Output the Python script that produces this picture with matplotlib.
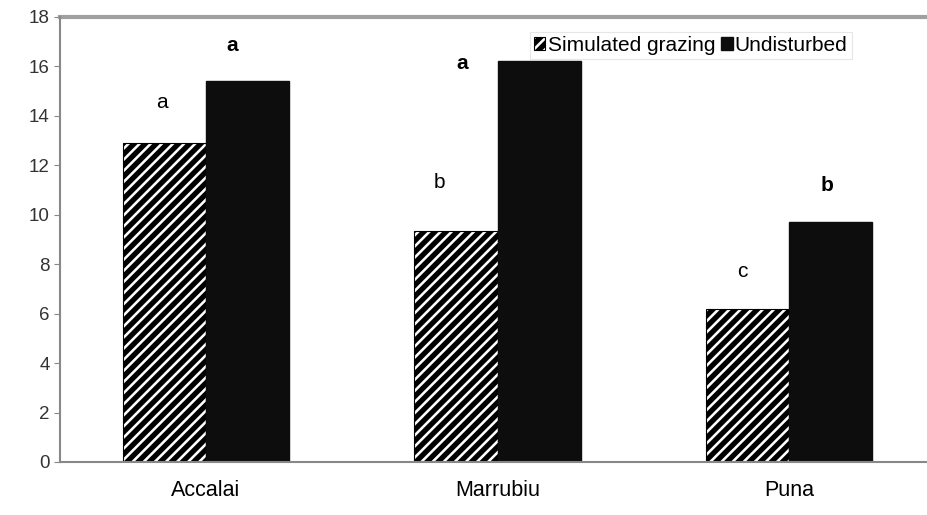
import matplotlib
matplotlib.use("Agg")
import matplotlib.pyplot as plt
import numpy as np
from matplotlib.patches import Patch

# data
sites = ["Accalai", "Marrubiu", "Puna"]
grazing = [12.9, 9.35, 6.2]
undisturbed = [15.4, 16.2, 9.7]
grazing_letters = ["a", "b", "c"]
undisturbed_letters = ["a", "a", "b"]

plt.rcParams["font.family"] = ["Liberation Sans", "DejaVu Sans"]
plt.rcParams["hatch.linewidth"] = 3.8

fig = plt.figure(figsize=(9.27, 5.15), dpi=100)
ax = fig.add_axes([0.0647, 0.103, 0.944, 0.864])

x = np.arange(len(sites)) + 0.5
w = 0.285
ax.bar(x - w / 2, grazing, w, color="white", edgecolor="black", hatch="///",
       linewidth=0.8, label="Simulated grazing")
ax.bar(x + w / 2, undisturbed, w, color="#0d0d0d", edgecolor="#0d0d0d",
       label="Undisturbed")

# significance letters (placed as in the original figure)
g_pos = [(0.35, 14.55), (1.30, 11.3), (2.34, 7.7)]
u_pos = [(0.59, 16.85), (1.38, 16.1), (2.63, 11.2)]
for i in range(len(sites)):
    ax.text(g_pos[i][0], g_pos[i][1], grazing_letters[i],
            ha="center", va="center", fontsize=15)
    ax.text(u_pos[i][0], u_pos[i][1], undisturbed_letters[i],
            ha="center", va="center", fontsize=15, fontweight="bold")

ax.set_xlim(0, 3)
ax.set_ylim(0, 18)
ax.set_yticks(range(0, 19, 2))
ax.set_xticks(x)
ax.set_xticklabels(sites, fontsize=15.5)
ax.tick_params(axis="x", length=0, pad=13)
ax.tick_params(axis="y", labelsize=13.5, length=4, color="#888888", labelcolor="#333333")
ax.axhline(18, color="#a0a0a0", linewidth=3, clip_on=False)
for s in ["top", "right"]:
    ax.spines[s].set_visible(False)
for s in ["left", "bottom"]:
    ax.spines[s].set_color("#888888")
    ax.spines[s].set_linewidth(1.5)

handles = [Patch(facecolor="white", edgecolor="black", hatch="///", linewidth=0.8),
           Patch(facecolor="#0d0d0d", edgecolor="#0d0d0d")]
leg = ax.legend(handles, ["Simulated grazing", "Undisturbed"], ncol=2,
                loc="upper left", bbox_to_anchor=(0.525, 0.99), fontsize=15,
                frameon=True, fancybox=False, handlelength=0.55, handleheight=0.55,
                handletextpad=0.1, columnspacing=0.3, borderpad=0.2)
leg.get_frame().set_edgecolor("#e0e0e0")
leg.get_frame().set_linewidth(0.8)

fig.savefig("out.png", dpi=100)
